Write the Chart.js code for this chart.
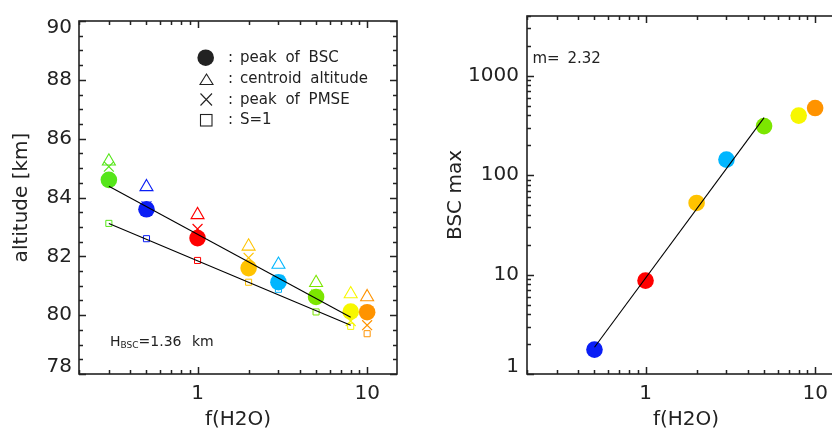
<!DOCTYPE html>
<html>
<head>
<meta charset="utf-8">
<script src="https://cdn.jsdelivr.net/npm/chart.js@4.4.1/dist/chart.umd.min.js"></script>
<style>
html, body { margin: 0; padding: 0; background: #fff; overflow: hidden; }
#wrap { position: relative; width: 832px; height: 432px; overflow: hidden; }
#left { position: absolute; left: 0; top: 0; }
#right { position: absolute; left: 420px; top: 0; }
</style>
</head>
<body>
<div id="wrap">
  <canvas id="left" width="420" height="432"></canvas>
  <canvas id="right" width="440" height="432"></canvas>
</div>
<script>
// values
const fH2O = [0.3, 0.5, 1, 2, 3, 5, 8, 10];
const pointColors = ['#55e619', '#0a1ef5', '#ff0000', '#ffc300', '#00b6ff', '#7ce600', '#f7f700', '#ff9300'];
const peakBSC = [84.6, 83.6, 82.62, 81.6, 81.12, 80.62, 80.12, 80.1];
const centroidAlt = [85.23, 84.36, 83.41, 82.34, 81.72, 81.1, 80.72, 80.62];
const peakPMSE = [85.05, 83.7, 82.93, 81.95, 81.2, 80.7, 79.8, 79.66];
const s1Alt = [83.12, 82.6, 81.86, 81.12, 80.88, 80.11, 79.62, 79.37];
const fitBSCx = [0.3, 8];
const fitBSCy = [84.38, 79.93];
const fitS1x = [0.3, 8];
const fitS1y = [83.12, 79.66];

const fMax = [0.5, 1, 2, 3, 5, 8, 10];
const bscMax = [1.76, 8.7, 52.6, 143.6, 312, 398, 474];
const fitMaxX = [0.5, 5];
const fitMaxY = [1.86, 380];

const xTickLabels = [1, 10];
const yTickLabelsRight = [1, 10, 100, 1000];
const legendLabels = ['peak of BSC', 'centroid altitude', 'peak of PMSE', 'S=1'];

const ink = '#222';
Chart.defaults.font.family = '"DejaVu Sans", sans-serif';
Chart.defaults.color = ink;

function pts(xs, ys) {
  return xs.map((x, i) => ({x: x, y: ys[i]}));
}

// tick positions for the inward tick marks
function tickValues(scale, step, majorStep) {
  const out = [];
  if (scale.type === 'logarithmic') {
    for (let e = Math.floor(Math.log10(scale.min)); e <= Math.ceil(Math.log10(scale.max)); e++) {
      for (let k = 1; k < 10; k++) {
        const v = k * Math.pow(10, e);
        if (v >= scale.min * 0.9999 && v <= scale.max * 1.0001) out.push([v, k === 1]);
      }
    }
  } else {
    for (let v = scale.min; v <= scale.max + 1e-9; v += step) {
      const r = v / majorStep;
      out.push([v, Math.abs(r - Math.round(r)) < 1e-6]);
    }
  }
  return out;
}

const framePlugin = {
  id: 'frame',
  afterDatasetsDraw(chart) {
    const {ctx, chartArea: a, scales} = chart;
    const x = scales.x, y = scales.y;
    ctx.save();
    ctx.strokeStyle = ink;
    ctx.lineWidth = 1.6;
    ctx.strokeRect(a.left, a.top, a.right - a.left, a.bottom - a.top);
    ctx.lineWidth = 1.5;
    ctx.beginPath();
    tickValues(x).forEach(([v, major]) => {
      const px = Math.round(x.getPixelForValue(v)) + 0.5;
      const len = major ? 7 : 4;
      ctx.moveTo(px, a.bottom); ctx.lineTo(px, a.bottom - len);
      ctx.moveTo(px, a.top); ctx.lineTo(px, a.top + len);
    });
    tickValues(y, 0.5, 2).forEach(([v, major]) => {
      const py = Math.round(y.getPixelForValue(v)) + 0.5;
      const len = major ? 7 : 4;
      ctx.moveTo(a.left, py); ctx.lineTo(a.left + len, py);
      ctx.moveTo(a.right, py); ctx.lineTo(a.right - len, py);
    });
    ctx.stroke();
    ctx.restore();
  }
};

const leftNotes = {
  id: 'leftNotes',
  afterDraw(chart) {
    const ctx = chart.ctx;
    ctx.save();
    ctx.fillStyle = ink;
    ctx.strokeStyle = ink;
    // legend symbols
    ctx.beginPath(); ctx.arc(205.7, 57.7, 8.3, 0, 2 * Math.PI); ctx.fill();
    ctx.lineWidth = 1.1;
    ctx.beginPath();
    ctx.moveTo(206.5, 74); ctx.lineTo(213, 84.5); ctx.lineTo(200, 84.5); ctx.closePath();
    ctx.stroke();
    ctx.beginPath();
    ctx.moveTo(200.5, 93.5); ctx.lineTo(212, 105.5);
    ctx.moveTo(212, 93.5); ctx.lineTo(200.5, 105.5);
    ctx.stroke();
    ctx.strokeRect(200.5, 114.5, 11.5, 11.5);
    ctx.font = '15px "DejaVu Sans"';
    if ('wordSpacing' in ctx) ctx.wordSpacing = '4px';
    const base = [62, 83, 103.5, 124];
    legendLabels.forEach((t, i) => {
      ctx.fillText(':', 228, base[i]);
      ctx.fillText(t, 240, base[i]);
    });
    // H_BSC
    let hx = 110;
    ctx.font = '14px "DejaVu Sans"';
    ctx.fillText('H', hx, 345.5);
    hx += ctx.measureText('H').width;
    ctx.font = '9px "DejaVu Sans"';
    if ('wordSpacing' in ctx) ctx.wordSpacing = '0px';
    ctx.fillText('BSC', hx, 347.5);
    hx += ctx.measureText('BSC').width;
    ctx.font = '14px "DejaVu Sans"';
    if ('wordSpacing' in ctx) ctx.wordSpacing = '6px';
    ctx.fillText('=1.36 km', hx, 345.5);
    ctx.restore();
  }
};

const rightNotes = {
  id: 'rightNotes',
  afterDraw(chart) {
    const ctx = chart.ctx;
    ctx.save();
    ctx.fillStyle = ink;
    ctx.font = '15px "DejaVu Sans"';
    if ('wordSpacing' in ctx) ctx.wordSpacing = '3px';
    ctx.fillText('m= 2.32', chart.chartArea.left + 5.5, 63.3);
    ctx.restore();
  }
};

// labels at the ends of an axis sit inside the axis range
function edgeShift(label, v, min, max) {
  if (v === max) return [' ', label];
  if (v === min) return [label, ' '];
  return label;
}

const scatter = (data, style, radius, colors, filled, order, bw) => ({
  data: data,
  pointStyle: style,
  pointRadius: radius,
  pointBackgroundColor: filled ? colors : 'rgba(0,0,0,0)',
  pointBorderColor: colors,
  pointBorderWidth: filled ? 0 : bw,
  order: order
});

const fitLine = (data) => ({
  data: data,
  showLine: true,
  borderColor: '#000',
  borderWidth: 1.1,
  pointRadius: 0,
  order: 0
});

const titleFont = {size: 20, lineHeight: 1.2};
const tickFont = {size: 20, lineHeight: 0.7};

new Chart(document.getElementById('left'), {
  type: 'scatter',
  data: {
    datasets: [
      fitLine(pts(fitBSCx, fitBSCy)),
      fitLine(pts(fitS1x, fitS1y)),
      scatter(pts(fH2O, peakBSC), 'circle', 8.3, pointColors, true, 1),
      scatter(pts(fH2O, centroidAlt), 'triangle', 7.5, pointColors, false, 2, 1.1),
      scatter(pts(fH2O, peakPMSE), 'crossRot', 7, pointColors, false, 3, 1.2),
      scatter(pts(fH2O, s1Alt), 'rect', 4.3, pointColors, false, 4, 1)
    ]
  },
  options: {
    responsive: false,
    animation: false,
    events: [],
    devicePixelRatio: 1,
    layout: {padding: {left: 0, top: 16, right: 23, bottom: 0}},
    plugins: {legend: {display: false}, tooltip: {enabled: false}},
    scales: {
      x: {
        type: 'logarithmic',
        min: 0.2, max: 15,
        grid: {display: false, drawTicks: false},
        border: {display: false},
        ticks: {
          autoSkip: false, maxRotation: 0, padding: 13, font: tickFont,
          callback: (v) => xTickLabels.includes(v) ? String(v) : ''
        },
        title: {display: true, text: 'f(H2O)', font: titleFont, padding: {top: 0, bottom: 0}},
        afterFit: (s) => { s.height = 58; }
      },
      y: {
        min: 78, max: 90,
        grid: {display: false, drawTicks: false},
        border: {display: false},
        ticks: {
          stepSize: 2, padding: 7, font: tickFont,
          callback: (v) => edgeShift(String(v), v, 78, 90)
        },
        title: {display: true, text: 'altitude [km]', font: titleFont, padding: {top: 10, bottom: 0}},
        afterFit: (s) => { s.width = 79; }
      }
    }
  },
  plugins: [framePlugin, leftNotes]
});

new Chart(document.getElementById('right'), {
  type: 'scatter',
  data: {
    datasets: [
      fitLine(pts(fitMaxX, fitMaxY)),
      scatter(pts(fMax, bscMax), 'circle', 8.3, pointColors.slice(1), true, 1)
    ]
  },
  options: {
    responsive: false,
    animation: false,
    events: [],
    devicePixelRatio: 1,
    layout: {padding: {left: 0, top: 16, right: 15, bottom: 0}},
    plugins: {legend: {display: false}, tooltip: {enabled: false}},
    scales: {
      x: {
        type: 'logarithmic',
        min: 0.2, max: 15,
        grid: {display: false, drawTicks: false},
        border: {display: false},
        ticks: {
          autoSkip: false, maxRotation: 0, padding: 13, font: tickFont,
          callback: (v) => xTickLabels.includes(v) ? String(v) : ''
        },
        title: {display: true, text: 'f(H2O)', font: titleFont, padding: {top: 0, bottom: 0}},
        afterFit: (s) => { s.height = 58; }
      },
      y: {
        type: 'logarithmic',
        min: 1, max: 4000,
        grid: {display: false, drawTicks: false},
        border: {display: false},
        ticks: {
          autoSkip: false, padding: 8, font: tickFont,
          callback: (v) => yTickLabelsRight.includes(v) ? edgeShift(String(v), v, 1, 4000) : ''
        },
        title: {display: true, text: 'BSC max', font: titleFont, padding: {top: 24, bottom: 0}},
        afterFit: (s) => { s.width = 107; }
      }
    }
  },
  plugins: [framePlugin, rightNotes]
});
</script>
</body>
</html>
